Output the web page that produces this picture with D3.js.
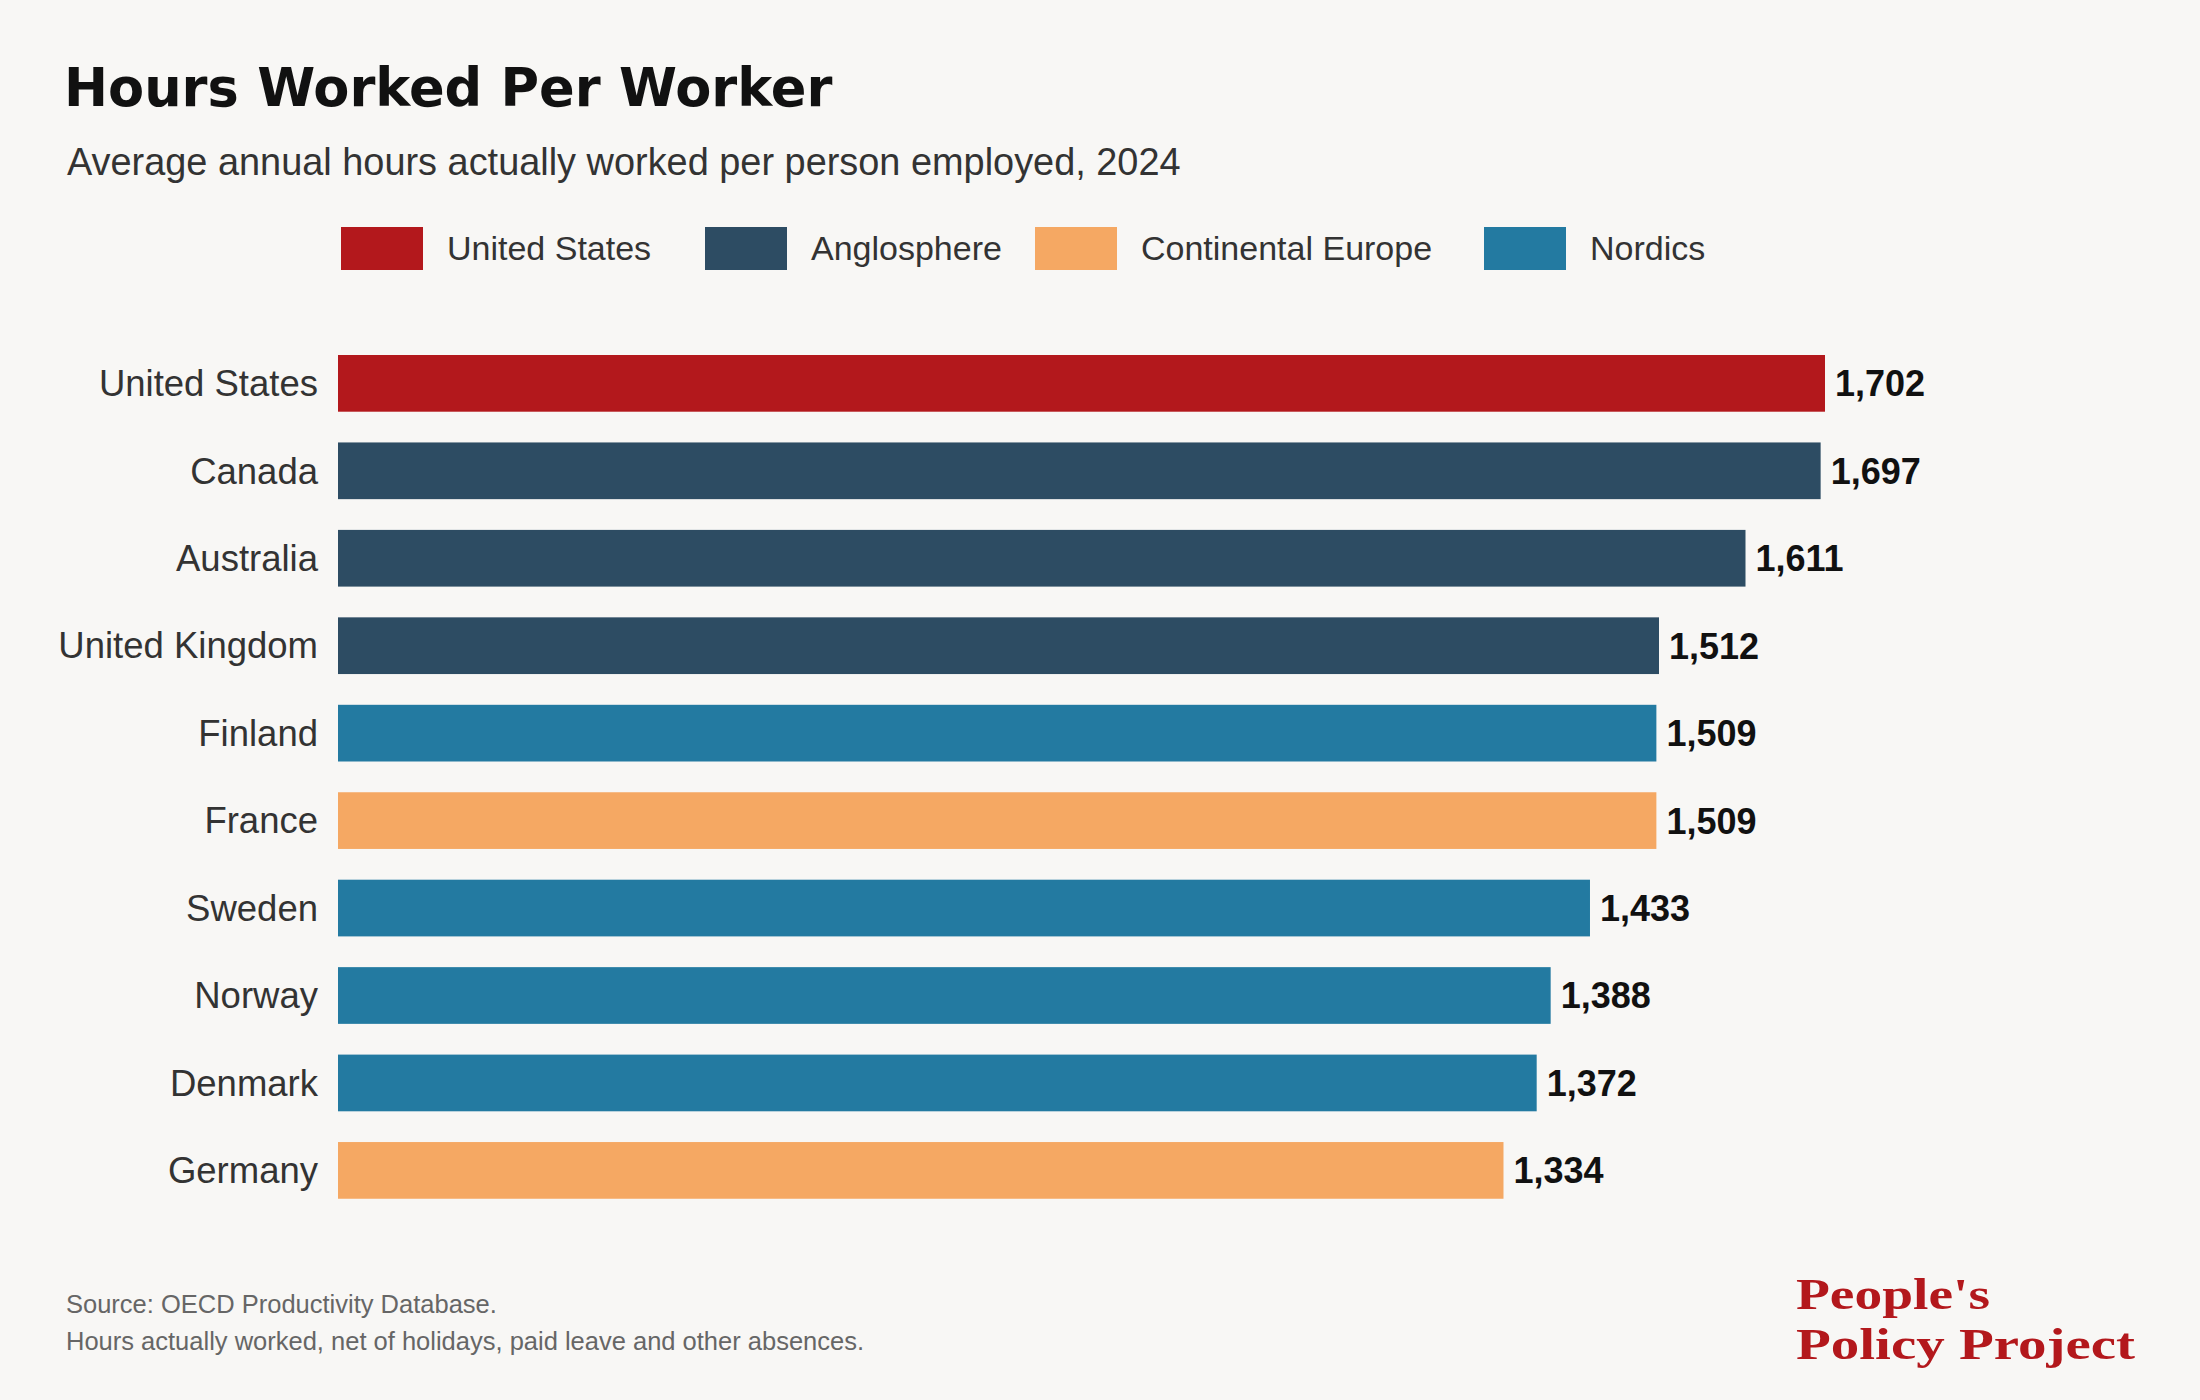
<!DOCTYPE html>
<html>
<head>
<meta charset="utf-8">
<script src="https://cdn.jsdelivr.net/npm/d3@7/dist/d3.min.js"></script>
<style>
  html, body { margin: 0; padding: 0; background: #f8f7f5; }
  svg { display: block; }
</style>
</head>
<body>
<svg id="chart" width="2200" height="1400"></svg>
<script>
// ---- Data ----
const countries = ["United States", "Canada", "Australia", "United Kingdom", "Finland",
                   "France", "Sweden", "Norway", "Denmark", "Germany"];
const hours = [1702, 1697, 1611, 1512, 1509, 1509, 1433, 1388, 1372, 1334];
const groups = ["United States", "Anglosphere", "Anglosphere", "Anglosphere", "Nordics",
                "Continental Europe", "Nordics", "Nordics", "Nordics", "Continental Europe"];
const legendGroups = ["United States", "Anglosphere", "Continental Europe", "Nordics"];
const groupColors = ["#b3181c", "#2d4c63", "#f5a863", "#237aa1"];

const titleText = "Hours Worked Per Worker";
const subtitleText = "Average annual hours actually worked per person employed, 2024";
const footerLines = ["Source: OECD Productivity Database.",
                     "Hours actually worked, net of holidays, paid leave and other absences."];
const logoLines = ["People's", "Policy Project"];

// ---- Chart ----
const svg = d3.select("#chart");
svg.append("rect").attr("width", 2200).attr("height", 1400).attr("fill", "#f8f7f5");

const sans = "'Liberation Sans', Arial, sans-serif";

const color = d3.scaleOrdinal().domain(legendGroups).range(groupColors);

const x = d3.scaleLinear().domain([0, 1702]).range([338, 1825]);
const y = d3.scaleBand().domain(countries).range([355, 1198.75]).paddingInner(0.3516).paddingOuter(0);

// Title & subtitle
svg.append("text").attr("x", 64).attr("y", 106)
  .attr("font-family", "'DejaVu Sans', sans-serif").attr("font-weight", "bold")
  .attr("font-size", 52.6).attr("fill", "#111").text(titleText);

svg.append("text").attr("x", 67).attr("y", 175)
  .attr("font-family", sans).attr("font-size", 37.9).attr("fill", "#333")
  .text(subtitleText);

// Legend
let lx = 341;
const legend = svg.append("g");
legendGroups.forEach(g => {
  const item = legend.append("g").attr("transform", `translate(${lx},227)`);
  item.append("rect").attr("width", 82).attr("height", 43).attr("fill", color(g));
  item.append("text").attr("x", 106).attr("y", 33)
    .attr("font-family", sans).attr("font-size", 34).attr("fill", "#333").text(g);
  lx += 143 + 17 * g.length;
});

// Bars
const data = countries.map((c, i) => ({ country: c, value: hours[i], group: groups[i] }));

svg.append("g").selectAll("rect").data(data).join("rect")
  .attr("x", x(0))
  .attr("y", d => y(d.country))
  .attr("width", d => x(d.value) - x(0))
  .attr("height", y.bandwidth())
  .attr("fill", d => color(d.group));

// Category labels (axis)
const yAxis = d3.axisLeft(y).tickSize(0).tickPadding(20);
const ag = svg.append("g").attr("transform", `translate(${x(0)},0)`).call(yAxis);
ag.select(".domain").remove();
ag.selectAll("text").attr("font-family", sans).attr("font-size", 36.5)
  .attr("fill", "#333").attr("dy", "0.35em");

// Value labels
const fmt = d3.format(",");
svg.append("g").selectAll("text").data(data).join("text")
  .attr("x", d => x(d.value) + 10)
  .attr("y", d => y(d.country) + y.bandwidth() / 2)
  .attr("dy", "0.36em")
  .attr("font-family", sans).attr("font-weight", "bold").attr("font-size", 36)
  .attr("fill", "#111")
  .text(d => fmt(d.value));

// Footer
footerLines.forEach((t, i) => {
  svg.append("text").attr("x", 66).attr("y", 1313 + i * 37)
    .attr("font-family", sans).attr("font-size", 25.5).attr("fill", "#666").text(t);
});

// Logo (two lines, stretched horizontally to the wordmark's width)
const logoWidths = [194, 339];
logoLines.forEach((t, i) => {
  svg.append("text").attr("x", 1796).attr("y", 1309 + i * 50)
    .attr("font-family", "'Liberation Serif', 'Times New Roman', serif")
    .attr("font-weight", "bold").attr("font-size", 45).attr("fill", "#b3181c")
    .attr("textLength", logoWidths[i]).attr("lengthAdjust", "spacingAndGlyphs")
    .text(t);
});
</script>
</body>
</html>
